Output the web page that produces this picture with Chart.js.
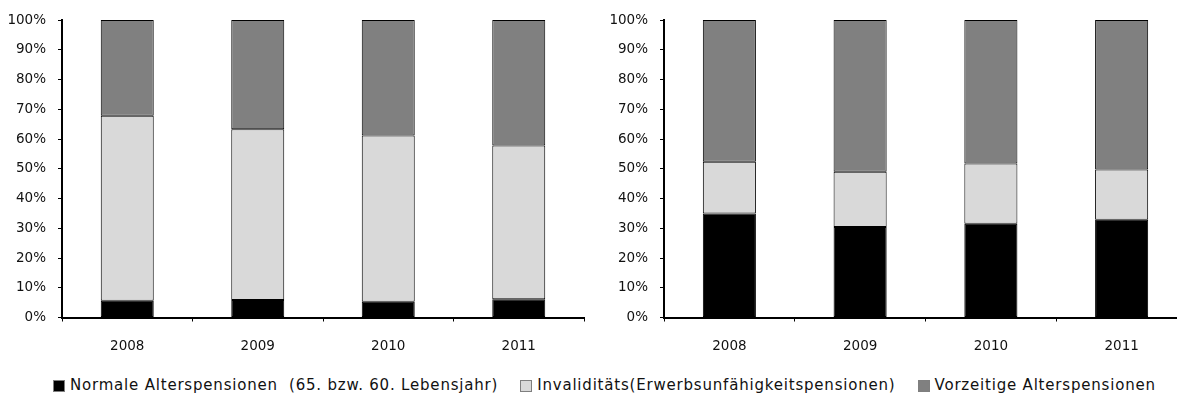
<!DOCTYPE html>
<html>
<head>
<meta charset="utf-8">
<script src="https://cdn.jsdelivr.net/npm/chart.js@4/dist/chart.umd.min.js"></script>
<style>
  html, body { margin: 0; padding: 0; background: #fff; }
  body { width: 1177px; height: 394px; overflow: hidden; position: relative; }
  canvas { position: absolute; top: 0; }
  #left { left: 0; }
  #right { left: 600px; }
  #legend {
    position: absolute; left: 53px; top: 378px;
    display: flex; align-items: flex-start; white-space: pre;
    font-family: "DejaVu Sans", sans-serif; font-size: 15px; line-height: 15px;
    letter-spacing: 0.8px; color: #111;
  }
  .item { display: flex; align-items: flex-start; margin-right: 22px; }
  .key { width: 10px; height: 10px; border: 1px solid #7f7f7f; margin-top: 2px; margin-right: 5px; }
</style>
</head>
<body>
<canvas id="left" width="600" height="372"></canvas>
<canvas id="right" width="600" height="372"></canvas>
<div id="legend"></div>
<script>
// Categories and series (shares in percent)
const years = ['2008', '2009', '2010', '2011'];
const seriesNames = [
  'Normale Alterspensionen  (65. bzw. 60. Lebensjahr)',
  'Invaliditäts(Erwerbsunfähigkeitspensionen)',
  'Vorzeitige Alterspensionen'
];
const seriesColors = ['#000000', '#d9d9d9', '#808080'];
const yTickLabels = ['0%', '10%', '20%', '30%', '40%', '50%', '60%', '70%', '80%', '90%', '100%'];

// Left panel
const leftNormal  = [5.6, 5.9, 5.3, 6.1];
const leftInvalid = [62.2, 57.4, 55.9, 51.7];
const leftEarly   = [32.2, 36.7, 38.8, 42.2];

// Right panel
const rightNormal  = [35.0, 30.4, 31.5, 32.9];
const rightInvalid = [17.4, 18.6, 20.3, 16.9];
const rightEarly   = [47.6, 51.0, 48.2, 50.2];

const tickFont = { family: 'DejaVu Sans', size: 13.5 };

function buildChart(id, series, yWidth, padRight) {
  return new Chart(document.getElementById(id), {
    type: 'bar',
    data: {
      labels: years,
      datasets: series.map((values, i) => ({
        label: seriesNames[i],
        data: values,
        backgroundColor: seriesColors[i],
        borderColor: '#000000',
        borderWidth: 1,
        borderSkipped: false,
        barPercentage: 0.406,
        categoryPercentage: 1.0
      }))
    },
    options: {
      responsive: false,
      animation: false,
      events: [],
      layout: { padding: { top: 20, right: padRight, left: 0, bottom: 0 } },
      plugins: { legend: { display: false }, tooltip: { enabled: false } },
      scales: {
        x: {
          stacked: true,
          grid: { display: true, drawOnChartArea: false, drawTicks: true, tickLength: 4, color: '#000', lineWidth: 1, offset: true },
          border: { display: true, color: '#000', width: 2 },
          ticks: { color: '#111', font: tickFont, padding: 17, maxRotation: 0, autoSkip: false },
          afterFit: s => { s.height = 54.5; }
        },
        y: {
          stacked: true,
          min: 0,
          max: 100,
          grid: { display: true, drawOnChartArea: false, drawTicks: true, tickLength: 4, color: '#000', lineWidth: 1 },
          border: { display: true, color: '#000', width: 2 },
          ticks: {
            stepSize: 10,
            color: '#111',
            font: tickFont,
            padding: 12,
            callback: (v, i) => yTickLabels[i]
          },
          afterFit: s => { s.width = yWidth; }
        }
      }
    }
  });
}

buildChart('left', [leftNormal, leftInvalid, leftEarly], 62, 16);
buildChart('right', [rightNormal, rightInvalid, rightEarly], 64, 13);

// Shared legend below both panels
const legend = document.getElementById('legend');
seriesNames.forEach((name, i) => {
  const item = document.createElement('div');
  item.className = 'item';
  const key = document.createElement('div');
  key.className = 'key';
  key.style.background = seriesColors[i];
  const text = document.createElement('span');
  text.textContent = name;
  item.appendChild(key);
  item.appendChild(text);
  legend.appendChild(item);
});
</script>
</body>
</html>
